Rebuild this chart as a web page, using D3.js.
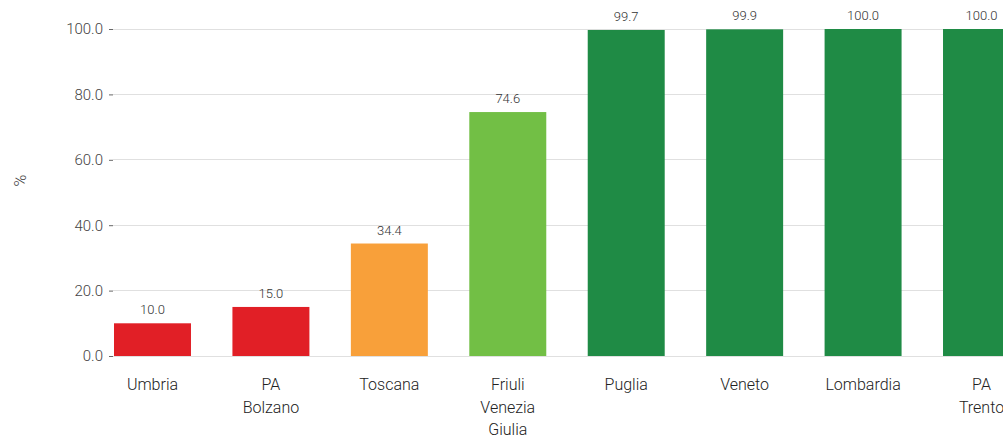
<!DOCTYPE html>
<html>
<head>
<meta charset="utf-8">
<script src="https://cdn.jsdelivr.net/npm/d3@7"></script>
<style>
  html, body { margin: 0; padding: 0; background: #fff; overflow: hidden; }
  svg { display: block; font-family: Roboto, "Noto Sans", sans-serif; font-weight: 300; }
</style>
</head>
<body>
<svg id="chart" width="1003" height="441"></svg>
<script>
// Regions and their percentage values
const regions = [["Umbria"], ["PA", "Bolzano"], ["Toscana"], ["Friuli", "Venezia", "Giulia"],
                 ["Puglia"], ["Veneto"], ["Lombardia"], ["PA", "Trento"]];
const values = [10.0, 15.0, 34.4, 74.6, 99.7, 99.9, 100.0, 100.0];
const barColors = ["#e11f26", "#e11f26", "#f8a03a", "#72bf45", "#1f8b45", "#1f8b45", "#1f8b45", "#1f8b45"];
const yTicks = [0, 20, 40, 60, 80, 100];
const yTitle = "%";

const svg = d3.select("#chart");
const margin = { left: 113, top: 29, bottom: 85 };
const height = 441;
const plotRight = 1020;

const keys = regions.map(r => r.join(" "));
const x = d3.scaleBand().domain(keys).range([margin.left + 1, plotRight]).paddingInner(0.35).paddingOuter(0);
const y = d3.scaleLinear().domain([0, 100]).range([height - margin.bottom, margin.top]);

// Gridlines
svg.append("g")
  .selectAll("line")
  .data(yTicks)
  .join("line")
  .attr("x1", margin.left).attr("x2", 1003)
  .attr("y1", d => y(d)).attr("y2", d => y(d))
  .attr("stroke", "#e0e0e0").attr("stroke-width", 1)
  .attr("shape-rendering", "crispEdges");

// Y axis
const yAxis = svg.append("g")
  .attr("transform", `translate(${margin.left},0)`)
  .call(d3.axisLeft(y).tickValues(yTicks).tickFormat(d3.format(".1f")).tickSize(4).tickPadding(6));
yAxis.select(".domain").remove();
yAxis.selectAll(".tick line").attr("stroke", "#666");
yAxis.selectAll(".tick text")
  .attr("fill", "#444").style("font-size", "15px").style("font-family", "Roboto, sans-serif")
  .style("font-weight", 300);

svg.append("text")
  .attr("transform", `translate(26,${(y(0) + y(100)) / 2 - 12}) rotate(-90)`)
  .attr("text-anchor", "middle")
  .attr("fill", "#444")
  .style("font-size", "16px")
  .text(yTitle);

// Bars
svg.append("g")
  .selectAll("rect")
  .data(values)
  .join("rect")
  .attr("x", (d, i) => x(keys[i]))
  .attr("width", x.bandwidth())
  .attr("y", d => y(d))
  .attr("height", d => y(0) - y(d))
  .attr("fill", (d, i) => barColors[i]);

// Value labels
svg.append("g")
  .selectAll("text")
  .data(values)
  .join("text")
  .attr("x", (d, i) => x(keys[i]) + x.bandwidth() / 2)
  .attr("y", d => y(d) - 9)
  .attr("text-anchor", "middle")
  .attr("fill", "#333")
  .style("font-size", "13px")
  .text(d => d3.format(".1f")(d));

// Category labels
const cat = svg.append("g")
  .selectAll("text")
  .data(regions)
  .join("text")
  .attr("x", (d, i) => x(keys[i]) + x.bandwidth() / 2)
  .attr("y", y(0) + 34)
  .attr("text-anchor", "middle")
  .attr("fill", "#222")
  .style("font-size", "16px");
cat.selectAll("tspan")
  .data(d => d)
  .join("tspan")
  .attr("x", function () { return this.parentNode.getAttribute("x"); })
  .attr("dy", (d, i) => i === 0 ? 0 : 22.5)
  .text(d => d);
</script>
</body>
</html>
